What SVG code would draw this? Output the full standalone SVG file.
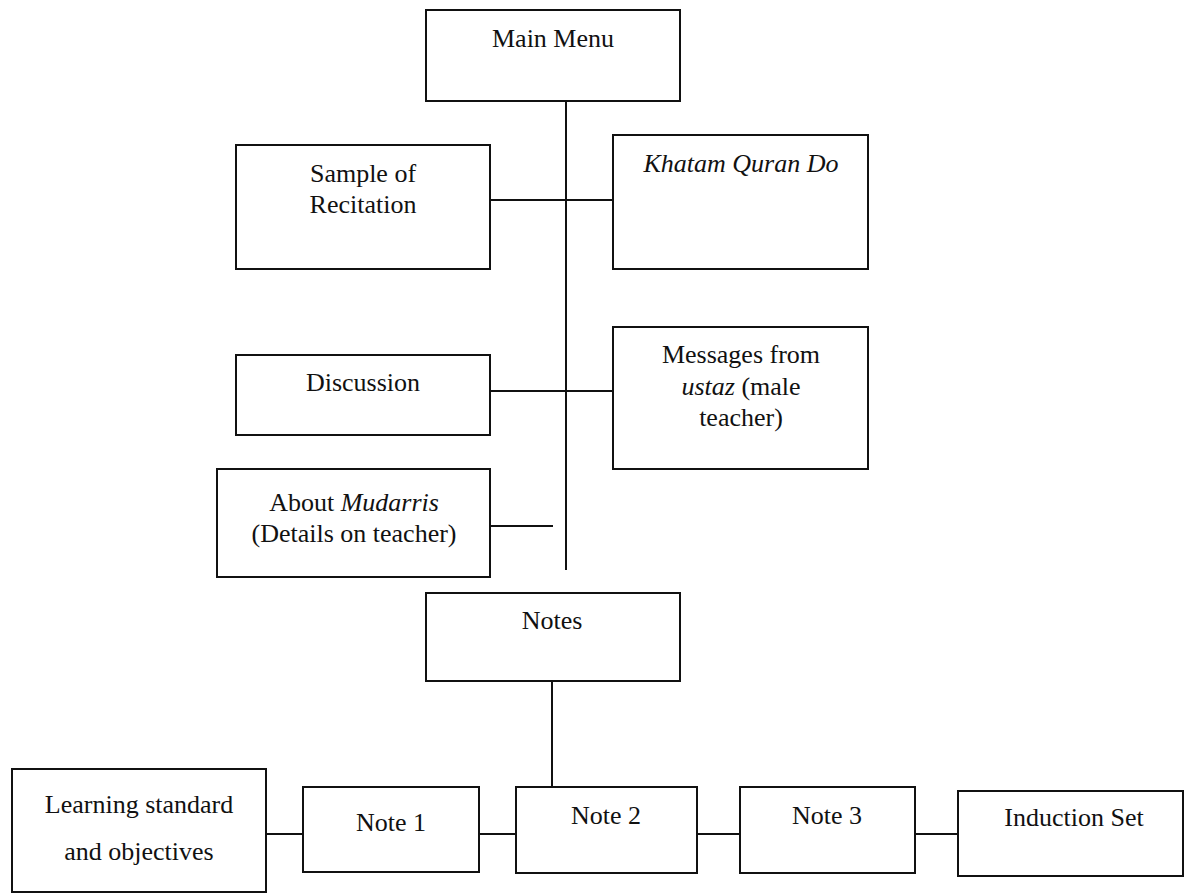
<svg xmlns="http://www.w3.org/2000/svg" width="1184" height="893" viewBox="0 0 1184 893" font-family="'Liberation Serif', 'Times New Roman', Times, serif">
<style>
.box{fill:#fff;stroke:#111;stroke-width:2}
.c{stroke:#111;stroke-width:2;fill:none}
text{font-family:'Liberation Serif','Times New Roman',Times,serif;font-size:26px;fill:#111;text-anchor:middle}
.i{font-style:italic}
</style>
<rect width="1184" height="893" fill="#fff"/>
<g id="connectors">
<line class="c" x1="566" y1="101" x2="566" y2="570"/>
<line class="c" x1="490" y1="200" x2="613" y2="200"/>
<line class="c" x1="490" y1="391" x2="613" y2="391"/>
<line class="c" x1="490" y1="526" x2="553" y2="526"/>
<line class="c" x1="552" y1="681" x2="552" y2="787"/>
<line class="c" x1="266" y1="834" x2="303" y2="834"/>
<line class="c" x1="479" y1="834" x2="516" y2="834"/>
<line class="c" x1="697" y1="834" x2="740" y2="834"/>
<line class="c" x1="915" y1="834" x2="958" y2="834"/>
</g>
<g id="main-menu">
<rect class="box" x="426" y="10" width="254" height="91"/>
<text x="553" y="47">Main Menu</text>
</g>
<g id="sample-of-recitation">
<rect class="box" x="236" y="145" width="254" height="124"/>
<text x="363" y="182">Sample of</text>
<text x="363" y="213">Recitation</text>
</g>
<g id="khatam-quran-do">
<rect class="box" x="613" y="135" width="255" height="134"/>
<text x="741" y="172" class="i">Khatam Quran Do</text>
</g>
<g id="discussion">
<rect class="box" x="236" y="355" width="254" height="80"/>
<text x="363" y="391">Discussion</text>
</g>
<g id="messages-from-ustaz">
<rect class="box" x="613" y="327" width="255" height="142"/>
<text x="741" y="363">Messages from</text>
<text x="741" y="395"><tspan class="i">ustaz</tspan> (male</text>
<text x="741" y="426">teacher)</text>
</g>
<g id="about-mudarris">
<rect class="box" x="217" y="469" width="273" height="108"/>
<text x="354" y="511">About <tspan class="i">Mudarris</tspan></text>
<text x="354" y="542">(Details on teacher)</text>
</g>
<g id="notes">
<rect class="box" x="426" y="593" width="254" height="88"/>
<text x="552" y="629">Notes</text>
</g>
<g id="learning-standard">
<rect class="box" x="12" y="769" width="254" height="123"/>
<text x="139" y="813">Learning standard</text>
<text x="139" y="860">and objectives</text>
</g>
<g id="note-1">
<rect class="box" x="303" y="787" width="176" height="85"/>
<text x="391" y="831">Note 1</text>
</g>
<g id="note-2">
<rect class="box" x="516" y="787" width="181" height="86"/>
<text x="606" y="824">Note 2</text>
</g>
<g id="note-3">
<rect class="box" x="740" y="787" width="175" height="86"/>
<text x="827" y="824">Note 3</text>
</g>
<g id="induction-set">
<rect class="box" x="958" y="791" width="225" height="85"/>
<text x="1074" y="826">Induction Set</text>
</g>
</svg>
